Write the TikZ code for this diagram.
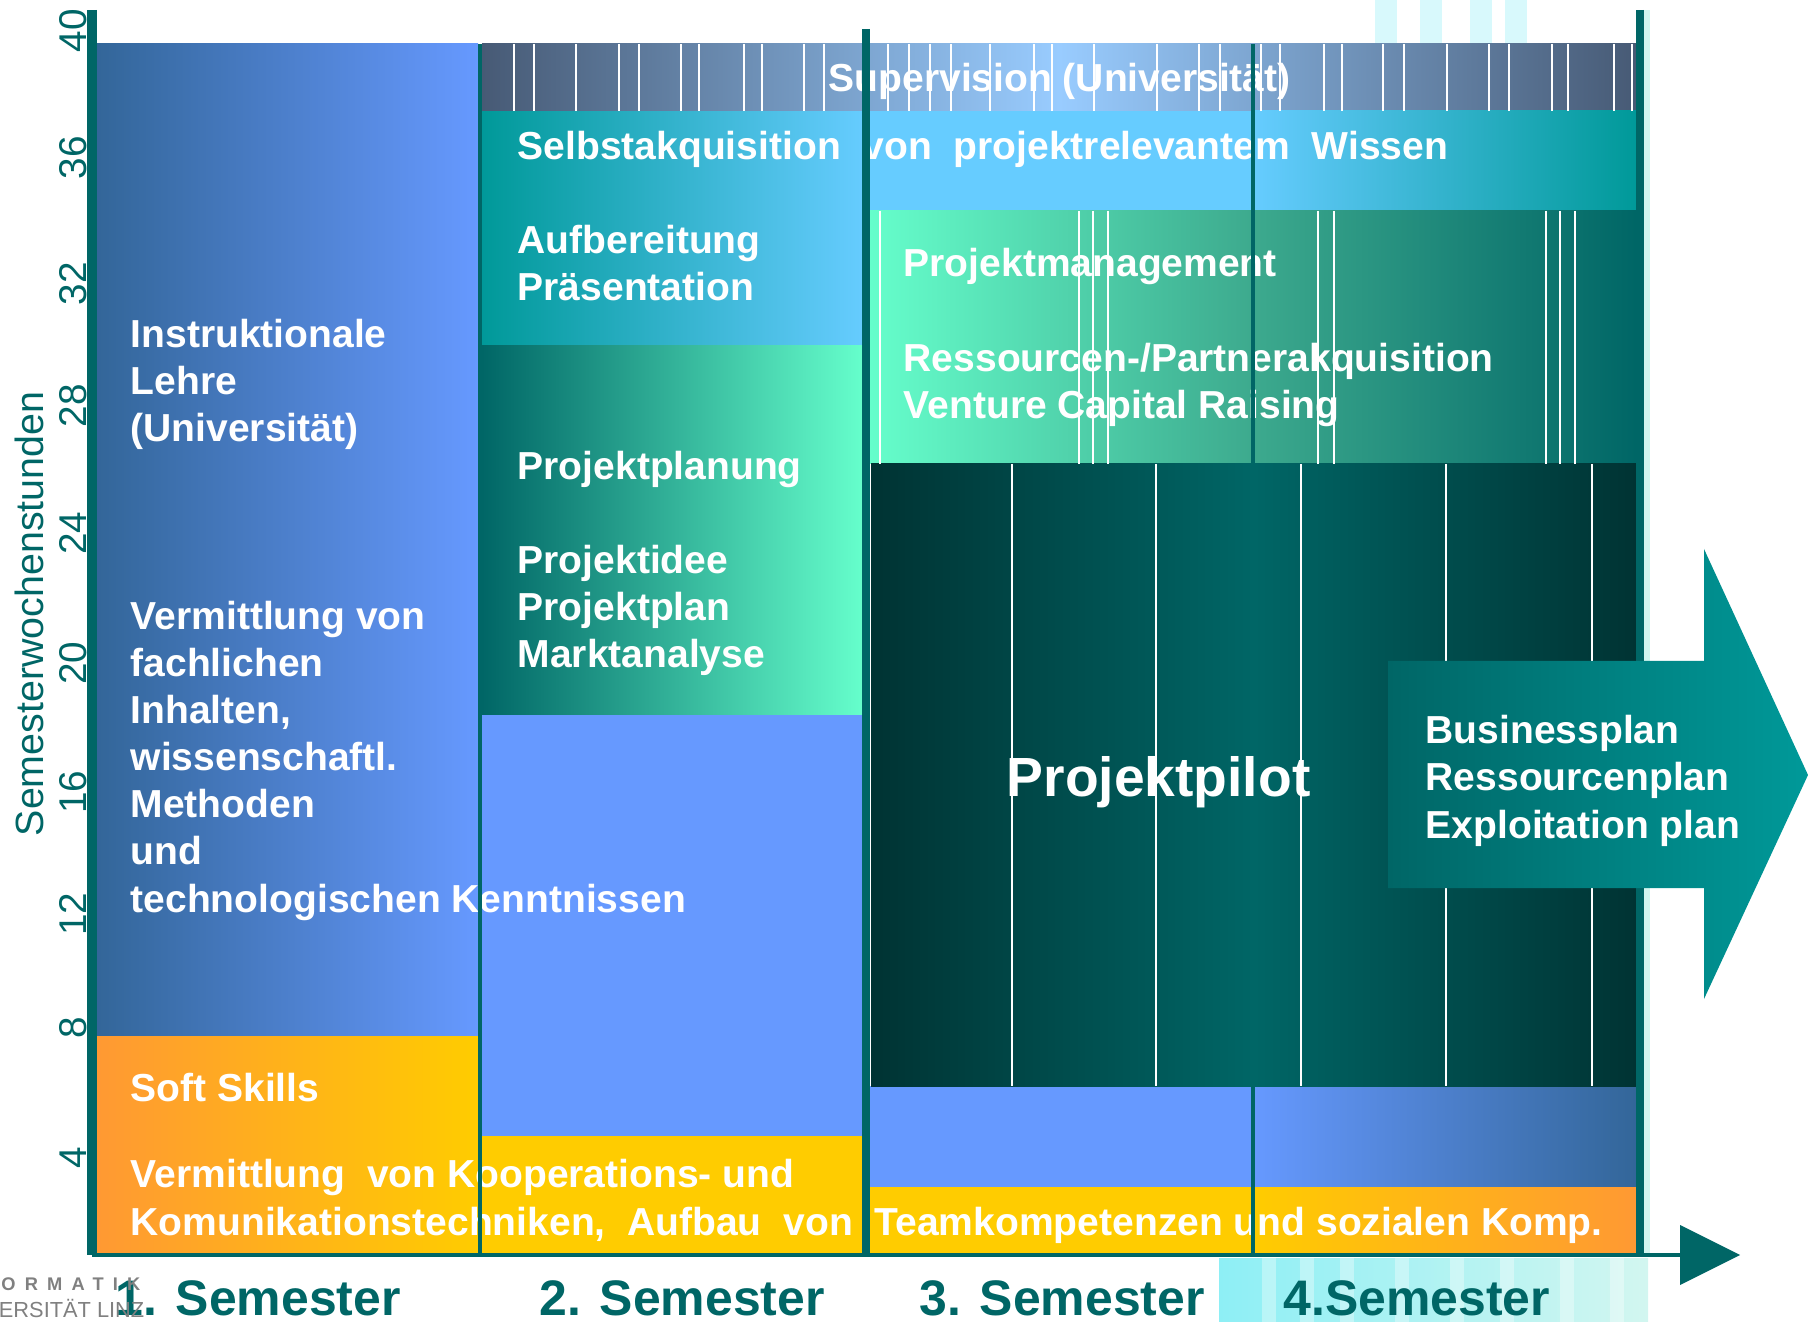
\documentclass[tikz,border=0pt]{standalone}
\usepackage{xcolor}
\usepackage{fontspec}
\setmainfont{Liberation Sans}
\usepackage{tikz}
\usetikzlibrary{positioning,calc}

\definecolor{tealline}{HTML}{006666}
\definecolor{tealmid}{HTML}{009999}
\definecolor{deepteal}{HTML}{003333}
\definecolor{skyblue}{HTML}{66CCFF}
\definecolor{mint}{HTML}{66FFCC}
\definecolor{midgreen}{HTML}{3DAA8E}
\definecolor{slate}{HTML}{475A75}
\definecolor{paleblue}{HTML}{99CCFF}
\definecolor{blueA}{HTML}{336699}
\definecolor{blueB}{HTML}{6699FF}
\definecolor{orangeA}{HTML}{FF9933}
\definecolor{yellowA}{HTML}{FFCC00}
\definecolor{photoA}{HTML}{8EEFF5}
\definecolor{photoB}{HTML}{D2F6F0}

\begin{document}
\begin{tikzpicture}[x=0.01cm,y=-0.01cm,
    lbl/.style={text=white,font=\bfseries\fontsize{11.1}{13.4}\selectfont,anchor=base west,align=left,inner sep=0pt},
    sem/.style={text=tealline,font=\bfseries\fontsize{14.2}{16}\selectfont,anchor=base west,inner sep=0pt},
    tick/.style={text=tealline,font=\fontsize{11}{13}\selectfont,rotate=90,inner sep=0pt},
    stripe/.style={draw=white,line width=0.3pt},
    border/.style={draw=tealline,line width=1.1pt}]
    \useasboundingbox (0,0) rectangle (1809,1322);

    % photo bits behind the frame
    \shade[left color=photoA,right color=photoB] (1219,1258) rectangle (1648,1322);
    \foreach \x in {1262,1300,1340,1395,1450,1500,1560,1610}
        \fill[white,opacity=0.35] (\x,1258) rectangle (\x+14,1322);
    \foreach \x in {1375,1420,1470,1505}
        \fill[photoA,opacity=0.35] (\x,0) rectangle (\x+22,43);
    \fill[photoB] (1644,10) rectangle (1650,1255);

    % 1. Semester
    \shade[left color=blueA,right color=blueB] (97,44) rectangle (478,1036);
    \shade[left color=orangeA,right color=yellowA] (97,1036) rectangle (478,1255);

    % 2. Semester
    \shade[left color=tealmid,right color=skyblue] (482,111) rectangle (864,346);
    \shade[left color=tealline,right color=mint] (482,346) rectangle (864,715);
    \fill[blueB] (482,715) rectangle (864,1136);
    \fill[yellowA] (482,1136) rectangle (864,1255);

    % Supervision over 2.-4.
    \shade[left color=slate,right color=slate,middle color=paleblue] (482,44) rectangle (1636,111);

    % 3. and 4. Semester
    \fill[skyblue] (866,111) rectangle (1253,211);
    \shade[left color=skyblue,right color=tealmid] (1253,111) rectangle (1636,211);
    \shade[left color=mint,right color=tealline,middle color=midgreen] (866,211) rectangle (1636,464);
    \fill[blueB] (866,1086) rectangle (1253,1187);
    \shade[left color=blueB,right color=blueA] (1253,1086) rectangle (1636,1187);
    \fill[yellowA] (866,1187) rectangle (1253,1255);
    \shade[left color=yellowA,right color=orangeA] (1253,1187) rectangle (1636,1255);
    \shade[left color=deepteal,right color=deepteal,middle color=tealline] (871,464) rectangle (1636,1086);

    % texts in the blocks (base = last line)
    \node[lbl] (instr) at (130,442) {Instruktionale\\Lehre\\(Universität)};
    \node[lbl] (verm) at (130,912) {Vermittlung von\\fachlichen\\Inhalten,\\wissenschaftl.\\Methoden\\und\\technologischen Kenntnissen};
    \node[lbl] (soft) at (130,1101) {Soft Skills};
    \node[lbl] (koop) at (130,1235) {Vermittlung\ \ von Kooperations- und\\Komunikationstechniken,\ \ Aufbau\ \ von\ \ Teamkompetenzen und sozialen Komp.};
    \node[lbl] (superv) at (828,92) {Supervision (Universität)};
    \node[lbl] (selbst) at (517,160) {Selbstakquisition\ \ von\ \ projektrelevantem\ \ Wissen};
    \node[lbl] (aufb) at (517,301) {Aufbereitung\\Präsentation};
    \node[lbl] (planung) at (517,480) {Projektplanung};
    \node[lbl] (idee) at (517,668) {Projektidee\\Projektplan\\Marktanalyse};
    \node[lbl] (mgmt) at (903,277) {Projektmanagement};
    \node[lbl] (ress) at (903,419) {Ressourcen-/Partnerakquisition\\Venture Capital Raising};
    \node[lbl,font=\bfseries\fontsize{15.7}{18}\selectfont] (pilot) at (1006,796) {Projektpilot};

    % thin white stripes
    \foreach \x in {514,534,576,619,639,681,699,744,762,804,824,888,909,930,951,990,1034,1052,1094,1157,1199,1220,1261,1280,1324,1342,1383,1404,1447,1489,1509,1552,1568,1614,1632}
        \draw[stripe] (\x,44) -- (\x,111);
    \foreach \x in {880,1079,1093,1108,1318,1334,1546,1560,1575}
        \draw[stripe] (\x,211) -- (\x,464);
    \foreach \x in {1012,1156,1301,1446,1592}
        \draw[stripe] (\x,464) -- (\x,1086);

    % frame lines
    \draw[border] (480,44) -- (480,1255);
    \draw[border,line width=2.2pt] (866,29) -- (866,1255);
    \draw[border] (1253,44) -- (1253,464);
    \draw[border] (1253,1086) -- (1253,1255);
    \draw[border,line width=2.5pt] (1640,10) -- (1640,1255);

    % axes
    \coordinate (origin) at (92,1255);
    \coordinate (ytop) at (92,10);
    \coordinate (xend) at (1684,1255);
    \draw[tealline,line width=2.6pt] (ytop) -- (origin);
    \draw[tealline,line width=1.4pt] (origin) -- (xend);
    \fill[tealline] (1680,1225) -- (1740,1255) -- (1680,1285) -- cycle;

    \foreach \v/\y in {40/31,36/158,32/284,28/406,24/533,20/663,16/792,12/914,8/1028,4/1158}
        \node[tick] (t\v) at (73,\y) {\v};
    \node[tick,font=\fontsize{11.2}{13}\selectfont] (ylab) at (29,614) {Semesterwochenstunden};

    % result arrow
    \shade[left color=tealline,right color=tealmid] (1388,661) -- (1704,661) -- (1704,549) -- (1808,775) -- (1704,999) -- (1704,888) -- (1388,888) -- cycle;
    \node[lbl] (bplan) at (1425,838) {Businessplan\\Ressourcenplan\\Exploitation plan};

    % semesters
    \node[sem] (s1) at (115,1315) {1. Semester};
    \node[sem] (s2) at (539,1315) {2. Semester};
    \node[sem] (s3) at (919,1315) {3. Semester};
    \node[sem] (s4) at (1283,1315) {4.Semester};

    % logo rest
    \node[anchor=base east,inner sep=0pt,text=gray,font=\bfseries\fontsize{5.2}{6}\selectfont\addfontfeatures{LetterSpace=50}] (logoa) at (141,1290) {ORMATIK};
    \node[anchor=base east,inner sep=0pt,text=gray,font=\fontsize{6.2}{7}\selectfont] (logob) at (145,1317) {ERSITÄT LINZ};
\end{tikzpicture}
\end{document}
